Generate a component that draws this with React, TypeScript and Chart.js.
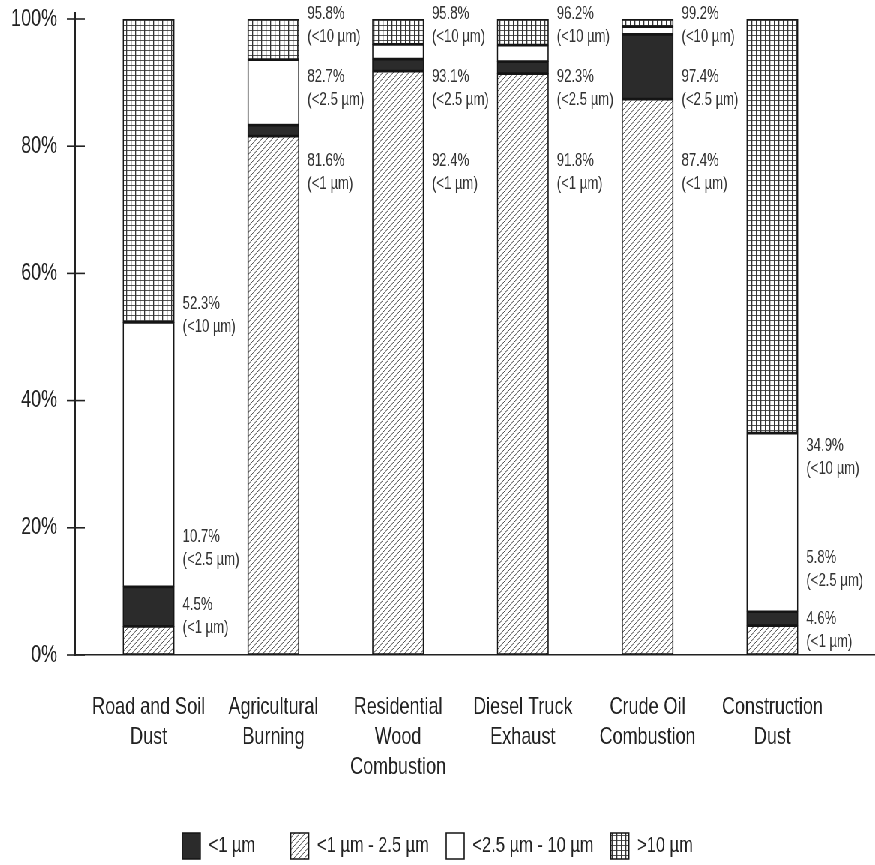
import React, { useEffect, useRef } from "react";
import { Chart, registerables } from "chart.js";

Chart.register(...registerables);

const categories = [
  "Road and Soil\nDust",
  "Agricultural\nBurning",
  "Residential\nWood\nCombustion",
  "Diesel Truck\nExhaust",
  "Crude Oil\nCombustion",
  "Construction\nDust",
];

// stacked segment values (%), bottom to top
const fineHatched = [4.5, 81.6, 91.8, 91.4, 87.4, 4.6];
const ultrafineBlack = [6.2, 1.7, 1.9, 1.9, 10.2, 2.2];
const coarseWhite = [41.6, 10.3, 2.3, 2.6, 1.2, 28.1];
const largeGrid = [47.7, 6.4, 4.0, 4.1, 1.2, 65.1];

// annotation texts (cumulative percentages printed next to bars)
const pm10Labels = ["52.3%", "95.8%", "95.8%", "96.2%", "99.2%", "34.9%"];
const pm25Labels = ["10.7%", "82.7%", "93.1%", "92.3%", "97.4%", "5.8%"];
const pm1Labels = ["4.5%", "81.6%", "92.4%", "91.8%", "87.4%", "4.6%"];
// value at which each annotation's first line sits
const pm10Anchor = [55.2, 100.8, 100.8, 100.8, 100.8, 32.9];
const pm25Anchor = [18.6, 90.9, 90.9, 90.9, 90.9, 15.3];
const pm1Anchor = [7.9, 77.7, 77.7, 77.7, 77.7, 5.7];

const legendLabels = ["<1 µm - 2.5 µm", "<1 µm", "<2.5 µm - 10 µm", ">10 µm"];
const legendRank = [1, 0, 2, 3];

const yTicks = [0, 20, 40, 60, 80, 100];

const FONT = "'Liberation Sans', Arial, sans-serif";
const SX = 0.75; // horizontal compression of the whole drawing
const W = 1167;
const H = 865;

function makeHatch(): CanvasPattern | string {
  const c = document.createElement("canvas");
  const w = 7;
  const h = 6;
  c.width = w;
  c.height = h;
  const g = c.getContext("2d");
  if (!g) return "#ccc";
  g.fillStyle = "#ffffff";
  g.fillRect(0, 0, w, h);
  g.strokeStyle = "#444";
  g.lineWidth = 1;
  g.beginPath();
  g.moveTo(0, h);
  g.lineTo(w, 0);
  g.moveTo(-w, h);
  g.lineTo(0, 0);
  g.moveTo(w, h);
  g.lineTo(2 * w, 0);
  g.stroke();
  return g.createPattern(c, "repeat") || "#ccc";
}

function makeGrid(): CanvasPattern | string {
  const c = document.createElement("canvas");
  c.width = 6;
  c.height = 5;
  const g = c.getContext("2d");
  if (!g) return "#ddd";
  g.fillStyle = "#ffffff";
  g.fillRect(0, 0, 6, 5);
  g.fillStyle = "#555";
  g.fillRect(0, 0, 6, 1);
  g.fillStyle = "#333";
  g.fillRect(0, 0, 1.3, 5);
  return g.createPattern(c, "repeat") || "#ddd";
}

export default function App() {
  const ref = useRef<HTMLCanvasElement | null>(null);

  useEffect(() => {
    if (!ref.current) return;
    const hatch = makeHatch();
    const grid = makeGrid();
    const BAR = 51.5 / SX;
    const pxPerCat = 124.8 / SX;
    const firstCenter = 148.5 / SX;
    const areaLeft = 75 / SX;
    const areaRight = W;
    const xMin = -(firstCenter - areaLeft) / pxPerCat;
    const xMax = xMin + (areaRight - areaLeft) / pxPerCat;

    const toPts = (arr: number[]) => arr.map((v, i) => ({ x: i, y: v }));
    const common = {
      borderColor: "#151515",
      borderWidth: 1.7,
      borderSkipped: false as const,
      barThickness: BAR,
    };

    const annot = {
      id: "annot",
      afterDatasetsDraw(chart: any) {
        const { ctx, scales } = chart;
        const xs = scales.x;
        const ys = scales.y;
        ctx.save();
        ctx.fillStyle = "#333";
        ctx.font = `17.5px ${FONT}`;
        ctx.textAlign = "left";
        ctx.textBaseline = "middle";
        const groups: [string[], number[], string][] = [
          [pm10Labels, pm10Anchor, "(<10 µm)"],
          [pm25Labels, pm25Anchor, "(<2.5 µm)"],
          [pm1Labels, pm1Anchor, "(<1 µm)"],
        ];
        categories.forEach((_, i) => {
          const x = xs.getPixelForValue(i) + BAR / 2 + 11;
          groups.forEach(([txt, anc, sub]) => {
            const y = ys.getPixelForValue(anc[i]);
            ctx.fillText(txt[i], x, y);
            ctx.fillText(sub, x, y + 23);
          });
        });
        // y axis: small extension above the top and tick marks crossing the axis
        ctx.strokeStyle = "#222";
        ctx.lineWidth = 2;
        ctx.beginPath();
        ctx.moveTo(xs.left, ys.top);
        ctx.lineTo(xs.left, ys.top - 7);
        ctx.stroke();
        ctx.lineWidth = 1.6;
        yTicks.forEach((t) => {
          const y = ys.getPixelForValue(t);
          ctx.beginPath();
          ctx.moveTo(xs.left - 11, y);
          ctx.lineTo(xs.left + 13, y);
          ctx.stroke();
        });
        ctx.restore();
      },
    };

    const legendPad = 23;
    const legendItemH = 26;
    const padBottom = -4;
    const legendTop = H - padBottom - (legendItemH + legendPad + 10);
    const xAxisHeight = legendTop - 655;

    const chart = new Chart(ref.current, {
      type: "bar",
      data: {
        datasets: [
          { label: legendLabels[0], data: toPts(fineHatched), backgroundColor: hatch, ...common },
          { label: legendLabels[1], data: toPts(ultrafineBlack), backgroundColor: "#2b2b2b", ...common },
          { label: legendLabels[2], data: toPts(coarseWhite), backgroundColor: "#ffffff", ...common },
          { label: legendLabels[3], data: toPts(largeGrid), backgroundColor: grid, ...common },
        ] as any,
      },
      options: {
        animation: false,
        responsive: true,
        maintainAspectRatio: false,
        layout: { padding: { top: 19, right: 0, left: 0, bottom: padBottom } },
        plugins: {
          tooltip: { enabled: false },
          legend: {
            position: "bottom",
            labels: {
              boxWidth: 18 / SX,
              boxHeight: legendItemH,
              padding: legendPad,
              color: "#222",
              font: { size: 22, family: FONT },
              sort: (a: any, b: any) => legendRank[a.datasetIndex] - legendRank[b.datasetIndex],
              generateLabels: (ch: any) => {
                const items = Chart.defaults.plugins.legend.labels.generateLabels(ch);
                return items.map((it: any) => ({
                  ...it,
                  text: it.datasetIndex === 1 ? it.text + "    " : it.text,
                  strokeStyle: "#151515",
                  lineWidth: 1.6,
                }));
              },
            },
          },
        },
        scales: {
          x: {
            type: "linear",
            stacked: true,
            offset: false,
            min: xMin,
            max: xMax,
            afterBuildTicks: (scale: any) => {
              scale.ticks = categories.map((_, i) => ({ value: i }));
            },
            afterFit: (scale: any) => {
              scale.height = xAxisHeight;
            },
            grid: { drawOnChartArea: false, drawTicks: false, offset: false },
            border: { display: true, color: "#222", width: 1.5 },
            ticks: {
              autoSkip: false,
              maxRotation: 0,
              padding: 37,
              color: "#222",
              font: { size: 24, family: FONT, lineHeight: 1.25 },
              callback: (v: any) => {
                const c = categories[Math.round(Number(v))];
                return c ? c.split("\n") : "";
              },
            },
          },
          y: {
            stacked: true,
            min: 0,
            max: 100,
            afterFit: (scale: any) => {
              scale.width = areaLeft;
              scale.paddingTop = 0;
              scale.paddingBottom = 0;
            },
            grid: { drawOnChartArea: false, drawTicks: false },
            border: { display: true, color: "#222", width: 2 },
            ticks: {
              stepSize: 20,
              padding: 24,
              color: "#222",
              font: { size: 24, family: FONT },
              callback: (v: any) => `${v}%`,
            },
          },
        },
      } as any,
      plugins: [annot],
    });
    return () => chart.destroy();
  }, []);

  return (
    <div
      style={{
        position: "absolute",
        left: 0,
        top: 0,
        width: W,
        height: H,
        background: "#fff",
        transform: `scaleX(${SX})`,
        transformOrigin: "0 0",
      }}
    >
      <canvas ref={ref} />
    </div>
  );
}
